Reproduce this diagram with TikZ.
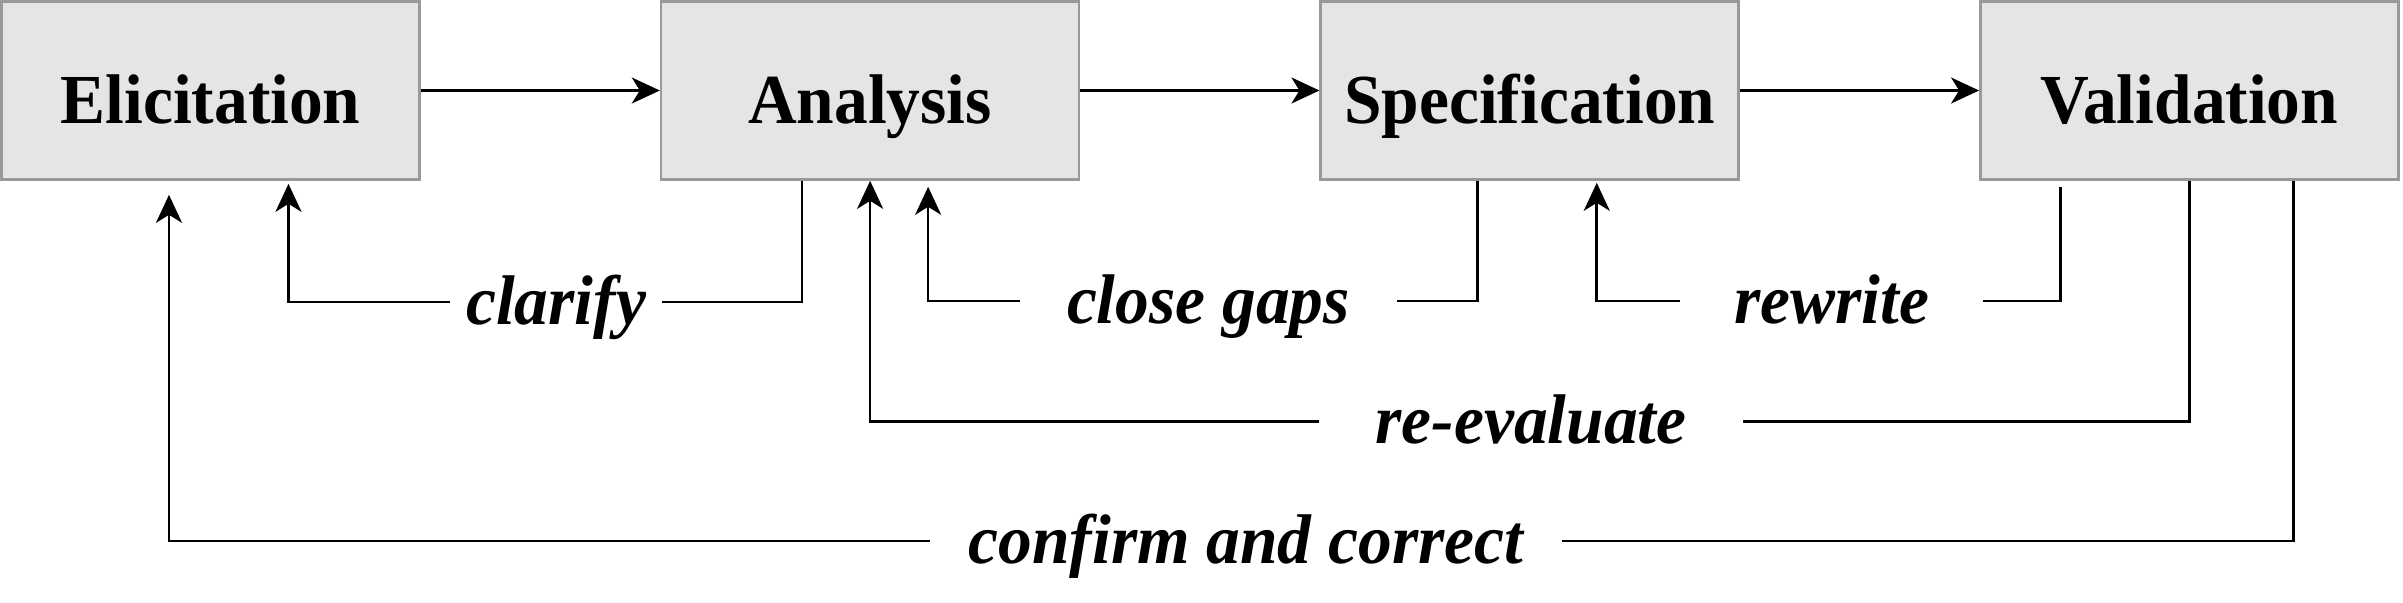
\documentclass[tikz,border=0pt]{standalone}
\usepackage{fontspec}
\setmainfont{Liberation Serif}[FakeStretch=0.96]
\usetikzlibrary{arrows.meta, positioning}

\begin{document}
\begin{tikzpicture}[
    >={Stealth[length=0.28cm, width=0.26cm, inset=0.08cm]},
    line width=0.75pt,
    stage/.style={draw=gray!80, fill=gray!20, minimum width=4.18cm,
                  minimum height=1.78cm, text height=0.66cm, text depth=0cm,
                  inner sep=0pt, font=\fontsize{20}{24}\selectfont\bfseries},
    fblabel/.style={inner sep=0pt, text height=0.62cm, text depth=0.18cm,
                    font=\fontsize{20}{24}\selectfont\bfseries\itshape}
  ]
  \useasboundingbox (0,0) rectangle (24.03,-6.03);

  % Stages
  \node[stage] (elic) at (2.105,-0.905) {Elicitation};
  \node[stage, right=2.39cm of elic] (anal) {Analysis};
  \node[stage, right=2.39cm of anal] (spec) {Specification};
  \node[stage, right=2.39cm of spec] (valid) {Validation};

  \draw[->] (elic) -- (anal);
  \draw[->] (anal) -- (spec);
  \draw[->] (spec) -- (valid);

  % Feedback labels
  \node[fblabel, minimum width=2.10cm] (clar) at (5.56,-3.02) {clarify};
  \node[fblabel, minimum width=3.75cm] (gaps) at (12.085,-3.01) {close gaps};
  \node[fblabel, minimum width=3.01cm] (rewr) at (18.315,-3.01) {rewrite};
  \node[fblabel, minimum width=4.22cm] (reev) at (15.31,-4.215) {re-evaluate};
  \node[fblabel, minimum width=6.30cm] (conf) at (12.46,-5.41)
    {confirm and correct};

  % Feedback loops
  \draw ([xshift=-0.68cm]anal.south) |- (clar.east);
  \draw[->] (clar.west) -| ([xshift=0.78cm, yshift=-0.03cm]elic.south);

  \draw ([xshift=-0.52cm]spec.south) |- (gaps.east);
  \draw[->] (gaps.west) -| ([xshift=0.58cm, yshift=-0.06cm]anal.south);

  \draw ([xshift=-1.29cm, yshift=-0.06cm]valid.south) |- (rewr.east);
  \draw[->] (rewr.west) -| ([xshift=0.67cm, yshift=-0.02cm]spec.south);

  \draw (valid.south) |- (reev.east);
  \draw[->] (reev.west) -| (anal.south);

  \draw ([xshift=1.04cm]valid.south) |- (conf.east);
  \draw[->] (conf.west) -| ([xshift=-0.415cm, yshift=-0.14cm]elic.south);
\end{tikzpicture}
\end{document}
